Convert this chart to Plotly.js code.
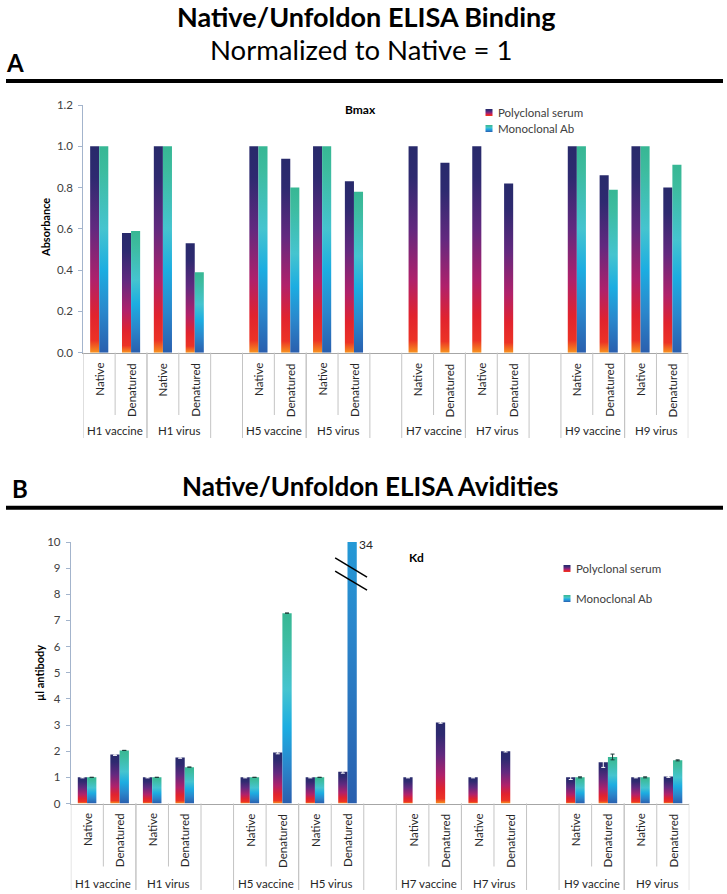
<!DOCTYPE html>
<html><head><meta charset="utf-8">
<script src="https://cdn.plot.ly/plotly-3.0.1.min.js"></script>
<style>body{margin:0;background:#fff}#chart{width:727px;height:894px}</style>
</head><body><div id="chart"></div>
<script>
// ---- data ----
const groups = ['H1 vaccine','H1 virus','H5 vaccine','H5 virus','H7 vaccine','H7 virus','H9 vaccine','H9 virus'];
const conditions = ['Native','Denatured'];
const seriesNames = ['Polyclonal serum','Monoclonal Ab'];
// Panel A: Bmax (Absorbance, normalized to Native = 1)
const bmaxPoly = [1.00,0.58, 1.00,0.53, 1.00,0.94, 1.00,0.83, 1.00,0.92, 1.00,0.82, 1.00,0.86, 1.00,0.80];
const bmaxMono = [1.00,0.59, 1.00,0.39, 1.00,0.80, 1.00,0.78, null,null, null,null, 1.00,0.79, 1.00,0.91];
// Panel B: Kd (µl antibody)
const kdPoly    = [1.00,1.87, 1.00,1.76, 1.00,1.95, 1.00,1.21, 1.00,3.10, 1.00,2.00, 1.00,1.58, 1.00,1.03];
const kdPolyErr = [0.02,0.03, 0.02,0.03, 0.02,0.05, 0.02,0.05, 0.02,0.03, 0.02,0.03, 0.08,0.20, 0.02,0.03];
const kdMono    = [1.00,2.03, 1.00,1.39, 1.00,7.28, 1.00,34, null,null, null,null, 1.00,1.78, 1.00,1.65];
const kdMonoErr = [null,null, null,null, null,null, null,null, null,null, null,null, 0.02,0.11, 0.02,0.02];
const bmaxTicks = [0,0.2,0.4,0.6,0.8,1.0,1.2];
const kdTicks = [0,1,2,3,4,5,6,7,8,9,10];

// ---- layout helpers ----
const W = 727, H = 894;
const px = v => v / W, py = v => 1 - v / H;
const FONT = 'Lato, "Open Sans", sans-serif';
const pos = [], labels = [];
groups.forEach((g, gi) => conditions.forEach((c, ci) => {
  pos.push(gi * 2 + ci + Math.floor(gi / 2));
  labels.push(c);
}));
const nSlots = pos[pos.length - 1] + 1;

const panels = [
  {xa:'x', ya:'y', axTop:352.7, innerEnd:415, outerEnd:438, lblTop:361, grpY:430.7},
  {xa:'x2', ya:'y2', axTop:803.5, innerEnd:866.5, outerEnd:890, lblTop:811.5, grpY:883}
];

const shapes = [], annotations = [];
const ann = (o) => annotations.push(Object.assign({showarrow:false, xanchor:'center', yanchor:'middle'}, o));
panels.forEach(p => {
  groups.forEach((g, gi) => {
    const a = pos[gi*2], b = pos[gi*2+1];
    [a - 0.5, b + 0.5].forEach(xv => shapes.push({type:'line', xref:p.xa, yref:'paper', x0:xv, x1:xv,
      y0:py(p.axTop), y1:py(p.outerEnd), line:{color:'#c4c4c4', width:1}}));
    shapes.push({type:'line', xref:p.xa, yref:'paper', x0:a+0.5, x1:a+0.5,
      y0:py(p.axTop), y1:py(p.innerEnd), line:{color:'#c4c4c4', width:1}});
    ann({xref:p.xa, yref:'paper', x:(a+b)/2, y:py(p.grpY), text:g, font:{family:FONT, size:11.5, color:'#262626'}});
  });
  pos.forEach((xv, i) => ann({xref:p.xa, yref:'paper', x:xv, y:py(p.lblTop), text:labels[i],
    textangle:-90, yanchor:'top', font:{family:FONT, size:11.5, color:'#262626'}}));
});

// thick separators
shapes.push({type:'line', xref:'paper', yref:'paper', x0:px(6), x1:px(723), y0:py(81), y1:py(81), line:{color:'#000', width:4}});
shapes.push({type:'line', xref:'paper', yref:'paper', x0:px(6), x1:px(723), y0:py(507.7), y1:py(507.7), line:{color:'#000', width:4}});
// axis-break marks on the clipped bar
const brk = pos[7];
shapes.push({type:'line', xref:'x2', yref:'y2', x0:brk-0.38, x1:brk+0.6, y0:9.39, y1:8.66, line:{color:'#000', width:1.5}});
shapes.push({type:'line', xref:'x2', yref:'y2', x0:brk-0.38, x1:brk+0.6, y0:8.89, y1:8.16, line:{color:'#000', width:1.5}});

ann({xref:'paper', yref:'paper', x:px(366), y:py(17), text:'<b>Native/Unfoldon ELISA Binding</b>', font:{family:FONT, size:27, color:'#000'}});
ann({xref:'paper', yref:'paper', x:px(361), y:py(50), text:'Normalized to Native = 1', font:{family:FONT, size:27.5, color:'#000'}});
ann({xref:'paper', yref:'paper', x:px(15), y:py(62), text:'<b>A</b>', font:{family:FONT, size:24, color:'#000'}});
ann({xref:'paper', yref:'paper', x:px(370), y:py(486), text:'<b>Native/Unfoldon ELISA Avidities</b>', font:{family:FONT, size:26, color:'#000'}});
ann({xref:'paper', yref:'paper', x:px(20), y:py(488), text:'<b>B</b>', font:{family:FONT, size:24, color:'#000'}});
ann({xref:'paper', yref:'paper', x:px(360), y:py(110), text:'<b>Bmax</b>', font:{family:FONT, size:12, color:'#000'}});
ann({xref:'paper', yref:'paper', x:px(416), y:py(557), text:'<b>Kd</b>', font:{family:FONT, size:12, color:'#000'}});
ann({xref:'paper', yref:'paper', x:px(45), y:py(228), text:'<b>Absorbance</b>', textangle:-90, font:{family:FONT, size:11, color:'#000'}});
ann({xref:'paper', yref:'paper', x:px(39), y:py(673), text:'<b>µl antibody</b>', textangle:-90, font:{family:FONT, size:11, color:'#000'}});
ann({xref:'x2', yref:'y2', x:brk+0.3, y:9.9, text:String(kdMono[7]), xanchor:'left', font:{family:FONT, size:12, color:'#262626'}});

const traces = [
  {type:'bar', x:pos, y:bmaxPoly, name:seriesNames[0], xaxis:'x', yaxis:'y', legend:'legend', marker:{color:'#6a2a7e'}},
  {type:'bar', x:pos, y:bmaxMono, name:seriesNames[1], xaxis:'x', yaxis:'y', legend:'legend', marker:{color:'#2aa8d8'}},
  {type:'bar', x:pos, y:kdPoly, name:seriesNames[0], xaxis:'x2', yaxis:'y2', legend:'legend2', legendgroup:'p', marker:{color:'#6a2a7e'},
   error_y:{type:'data', array:kdPolyErr, visible:true, color:'#ffffff', thickness:1, width:2}},
  {type:'bar', x:pos, y:kdMono, name:seriesNames[1], xaxis:'x2', yaxis:'y2', legend:'legend2', legendgroup:'m', marker:{color:'#2aa8d8'},
   error_y:{type:'data', array:kdMonoErr, visible:true, color:'#1d3b3a', thickness:1, width:2}}
];

const xBase = {range:[-0.5, nSlots - 0.5], showline:true, linecolor:'#a6a6a6', linewidth:1, showticklabels:false,
  ticks:'', showgrid:false, zeroline:false, fixedrange:true};
const yBase = {ticks:'outside', ticklen:4, tickcolor:'#a3b4cc', showline:true, linecolor:'#a3b4cc', linewidth:1,
  showgrid:false, zeroline:false, fixedrange:true, ticklabelstandoff:3, tickfont:{family:FONT, size:11.5, color:'#404040'}};

const layout = {
  width:W, height:H, margin:{l:0, r:0, t:0, b:0}, paper_bgcolor:'#fff', plot_bgcolor:'rgba(0,0,0,0)',
  barmode:'group', bargap:0.43, bargroupgap:0, hovermode:false,
  font:{family:FONT},
  xaxis:Object.assign({}, xBase, {domain:[px(83.3), px(688.3)], anchor:'y'}),
  yaxis:Object.assign({}, yBase, {domain:[py(352.7), py(105)], range:[0,1.2], tickvals:bmaxTicks, tickformat:'.1f', anchor:'x'}),
  xaxis2:Object.assign({}, xBase, {domain:[px(70.8), px(689.3)], anchor:'y2'}),
  yaxis2:Object.assign({}, yBase, {domain:[py(803.5), py(542)], range:[0,10], tickvals:kdTicks, anchor:'x2'}),
  legend:{x:px(458), y:py(98), xanchor:'left', yanchor:'top', bgcolor:'rgba(0,0,0,0)', font:{family:FONT, size:11.5, color:'#404040'}, itemwidth:30},
  legend2:{x:px(536), y:py(554), xanchor:'left', yanchor:'top', bgcolor:'rgba(0,0,0,0)', traceorder:'grouped', tracegroupgap:11, font:{family:FONT, size:11.5, color:'#404040'}, itemwidth:30},
  shapes:shapes, annotations:annotations
};

const gradStops = {
  'Polyclonal serum': [[0,'#282a6b'],[0.15,'#2e2a70'],[0.4,'#62297f'],[0.65,'#b0216b'],[0.82,'#e1232e'],[0.94,'#ec3325'],[1,'#f7931e']],
  'Monoclonal Ab': [[0,'#37b794'],[0.12,'#3dbc9f'],[0.4,'#45c4cf'],[0.6,'#1cade1'],[0.8,'#2a87cc'],[1,'#2a5fae']]
};
const gradId = {'Polyclonal serum':'gradPoly', 'Monoclonal Ab':'gradMono'};

function applyGradients(gd) {
  const ns = 'http://www.w3.org/2000/svg';
  const svg = gd.querySelector('svg.main-svg');
  let defs = svg.querySelector('defs');
  if (!defs) { defs = document.createElementNS(ns, 'defs'); svg.insertBefore(defs, svg.firstChild); }
  Object.keys(gradStops).forEach(name => {
    const lg = document.createElementNS(ns, 'linearGradient');
    lg.setAttribute('id', gradId[name]);
    lg.setAttribute('x1','0'); lg.setAttribute('y1','0'); lg.setAttribute('x2','0'); lg.setAttribute('y2','1');
    gradStops[name].forEach(([o, c]) => {
      const s = document.createElementNS(ns, 'stop');
      s.setAttribute('offset', o); s.setAttribute('stop-color', c);
      lg.appendChild(s);
    });
    defs.appendChild(lg);
  });
  gd.querySelectorAll('.barlayer .trace').forEach(tr => {
    const d = tr.__data__; const t = d && d[0] && d[0].trace;
    if (!t) return;
    tr.querySelectorAll('.point path').forEach(p => { p.style.fill = 'url(#' + gradId[t.name] + ')'; });
  });
  const legends = gd.querySelectorAll('.infolayer > g.legend, .infolayer > g.legend2, g.legend2');
  const seen = new Set();
  legends.forEach(leg => {
    if (seen.has(leg)) return; seen.add(leg);
    const items = leg.querySelectorAll('.traces');
    items.forEach((it, k) => {
      const d = it.__data__;
      let t = null;
      try { t = (d[0] && d[0][0] && d[0][0].trace) || (d[0] && d[0].trace) || null; } catch (e) {}
      const name = (t && t.name) || (k === 0 ? seriesNames[0] : seriesNames[1]);
      it.querySelectorAll('.legendpoints path').forEach(p => {
        p.setAttribute('d', 'M3.5,3.5H-3.5V-3.5H3.5Z');
        p.setAttribute('transform', 'translate(31,0)');
        p.style.fill = 'url(#' + gradId[name] + ')';
        p.style.stroke = 'none';
      });
    });
    if (leg.classList.contains('legend') && items.length === 2) {
      const m0 = /translate\(([-\d.]+),\s*([-\d.]+)\)/.exec(items[0].getAttribute('transform') || '');
      const m1 = /translate\(([-\d.]+),\s*([-\d.]+)\)/.exec(items[1].getAttribute('transform') || '');
      if (m0 && m1) items[1].setAttribute('transform', 'translate(' + m1[1] + ',' + (parseFloat(m0[2]) + 16) + ')');
    }
  });
}

Plotly.newPlot('chart', traces, layout, {displayModeBar:false, staticPlot:true}).then(applyGradients);
</script>
</body></html>
